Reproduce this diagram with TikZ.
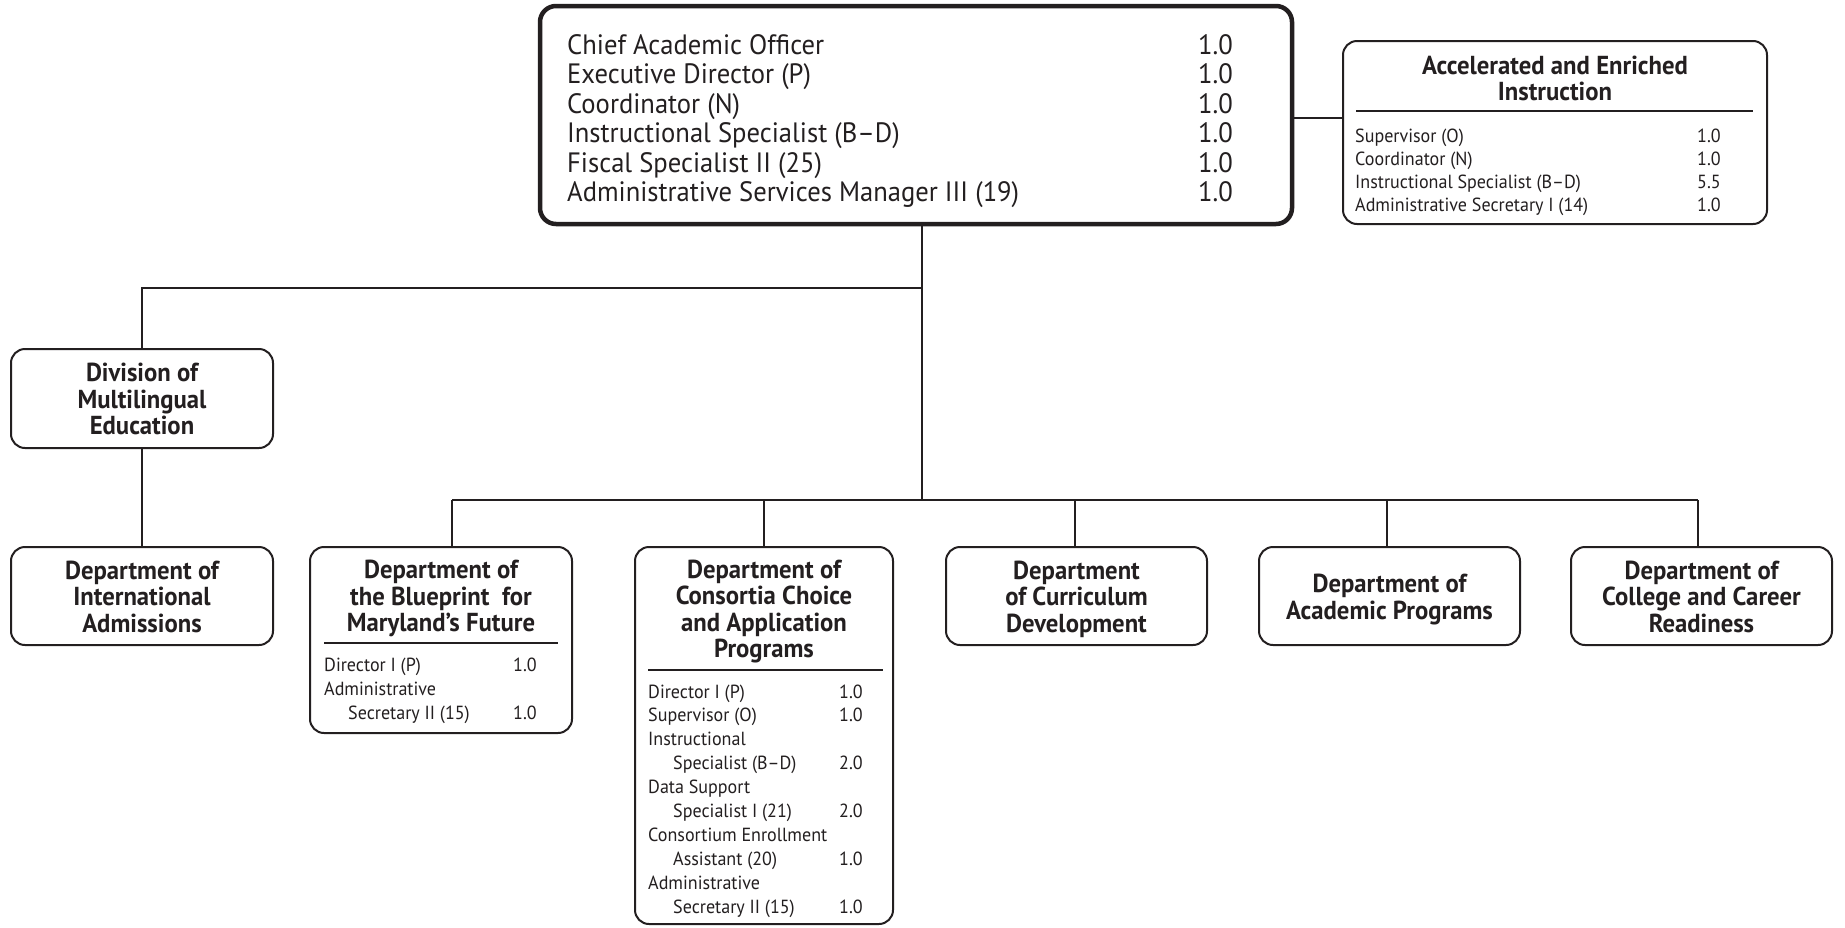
\documentclass[tikz,border=0pt]{standalone}
\usepackage{fontspec}
\setmainfont{PT Sans}[FakeStretch=0.95]
\usepackage{array}
\definecolor{ink}{HTML}{231F20}
\begin{document}
\begin{tikzpicture}[x=1pt,y=-1pt,
  unit/.style={draw=ink, line width=2pt, rounded corners=14pt, inner sep=0pt, outer sep=0pt, fill=white},
  topunit/.style={unit, line width=4.5pt, rounded corners=16pt},
  link/.style={draw=ink, line width=2pt},
  rulel/.style={draw=ink, line width=1.2pt},
  ttl/.style={font=\bfseries\fontsize{26}{26.5}\selectfont, text=ink, inner sep=0pt},
  midttl/.style={ttl, yshift=-4.5pt},
  lst/.style={text=ink, inner sep=0pt, anchor=base west}]
\useasboundingbox (0,0) rectangle (1845,927);

% boxes
\node[topunit, minimum width=752pt, minimum height=218pt] (top) at (916,115) {};
\node[unit, minimum width=424pt, minimum height=183pt] (acc) at (1555,132.5) {};
\node[unit, minimum width=262pt, minimum height=99pt] (div) at (142,398.5) {};
\node[unit, minimum width=262pt, minimum height=98pt] (intl) at (142,596) {};
\node[unit, minimum width=262pt, minimum height=186pt] (blue) at (441,640) {};
\node[unit, minimum width=258pt, minimum height=377pt] (cons) at (764,735.5) {};
\node[unit, minimum width=261pt, minimum height=98pt] (curr) at (1076.5,596) {};
\node[unit, minimum width=261pt, minimum height=98pt] (acad) at (1389.5,596) {};
\node[unit, minimum width=261pt, minimum height=98pt] (coll) at (1701.5,596) {};

% connectors
\coordinate (busL) at (922,288);
\coordinate (busB) at (922,500);
\coordinate (d1) at (452,500);
\coordinate (d2) at (764,500);
\coordinate (d3) at (1075,500);
\coordinate (d4) at (1387,500);
\coordinate (d5) at (1698,500);
\coordinate (rlink) at (1300,118);
\draw[link] (top.south -| busB) -- (busB);
\draw[link] (busL) -| (div.north);
\draw[link] (div.south) -- (intl.north);
\draw[link] (d1) -- (d5);
\draw[link] (d1) -- (d1 |- blue.north);
\draw[link] (d2) -- (d2 |- cons.north);
\draw[link] (d3) -- (d3 |- curr.north);
\draw[link] (d4) -- (d4 |- acad.north);
\draw[link] (d5) -- (d5 |- coll.north);
\draw[link] (top.east |- rlink) -- (acc.west |- rlink);

% chief academic office staff
\node[lst, font=\fontsize{28}{29.4}\selectfont] (topstaff) at (567,54.5) {%
\begin{tabular}[t]{@{}p{631pt}@{}l@{}}
Chief Academic Officer & 1.0\\
Executive Director (P) & 1.0\\
Coordinator (N) & 1.0\\
Instructional Specialist (B–D) & 1.0\\
Fiscal Specialist II (25) & 1.0\\
Administrative Services Manager III (19) & 1.0
\end{tabular}};

% accelerated and enriched instruction
\node[ttl, anchor=base, font=\bfseries\fontsize{26}{26}\selectfont] (acctitle) at (1555,74.5) {%
\begin{tabular}[t]{@{}c@{}}Accelerated and Enriched\\Instruction\end{tabular}};
\draw[rulel] (1356,111) -- (1753,111);
\node[lst, font=\fontsize{19}{23.3}\selectfont] (accstaff) at (1355,142) {%
\begin{tabular}[t]{@{}p{342pt}@{}l@{}}
Supervisor (O) & 1.0\\
Coordinator (N) & 1.0\\
Instructional Specialist (B–D) & 5.5\\
Administrative Secretary I (14) & 1.0
\end{tabular}};

% multilingual education
\node[midttl] (divtitle) at (div.center) {%
\begin{tabular}{@{}c@{}}Division of\\Multilingual\\Education\end{tabular}};
\node[midttl] (intltitle) at (intl.center) {%
\begin{tabular}{@{}c@{}}Department of\\International\\Admissions\end{tabular}};

% blueprint
\node[ttl, anchor=base] (bluetitle) at (441,578.5) {%
\begin{tabular}[t]{@{}c@{}}Department of\\the Blueprint~ for\\Maryland's Future\end{tabular}};
\draw[rulel] (324,643) -- (558,643);
\node[lst, font=\fontsize{19}{24}\selectfont] (bluestaff) at (324,671) {%
\begin{tabular}[t]{@{}p{189pt}@{}l@{}}
Director I (P) & 1.0\\
Administrative & \\
\hspace*{24pt}Secretary II (15) & 1.0
\end{tabular}};

% consortia choice
\node[ttl, anchor=base] (constitle) at (764,578) {%
\begin{tabular}[t]{@{}c@{}}Department of\\Consortia Choice\\and Application\\Programs\end{tabular}};
\draw[rulel] (648,670) -- (883,670);
\node[lst, font=\fontsize{19}{23.9}\selectfont] (consstaff) at (648,698) {%
\begin{tabular}[t]{@{}p{191pt}@{}l@{}}
Director I (P) & 1.0\\
Supervisor (O) & 1.0\\
Instructional & \\
\hspace*{25pt}Specialist (B–D) & 2.0\\
Data Support & \\
\hspace*{25pt}Specialist I (21) & 2.0\\
Consortium Enrollment & \\
\hspace*{25pt}Assistant (20) & 1.0\\
Administrative & \\
\hspace*{25pt}Secretary II (15) & 1.0
\end{tabular}};

% remaining departments
\node[midttl] (currtitle) at (curr.center) {%
\begin{tabular}{@{}c@{}}Department\\of Curriculum\\Development\end{tabular}};
\node[midttl] (acadtitle) at (acad.center) {%
\begin{tabular}{@{}c@{}}Department of\\Academic Programs\end{tabular}};
\node[midttl] (colltitle) at (coll.center) {%
\begin{tabular}{@{}c@{}}Department of\\College and Career\\Readiness\end{tabular}};
\end{tikzpicture}
\end{document}
